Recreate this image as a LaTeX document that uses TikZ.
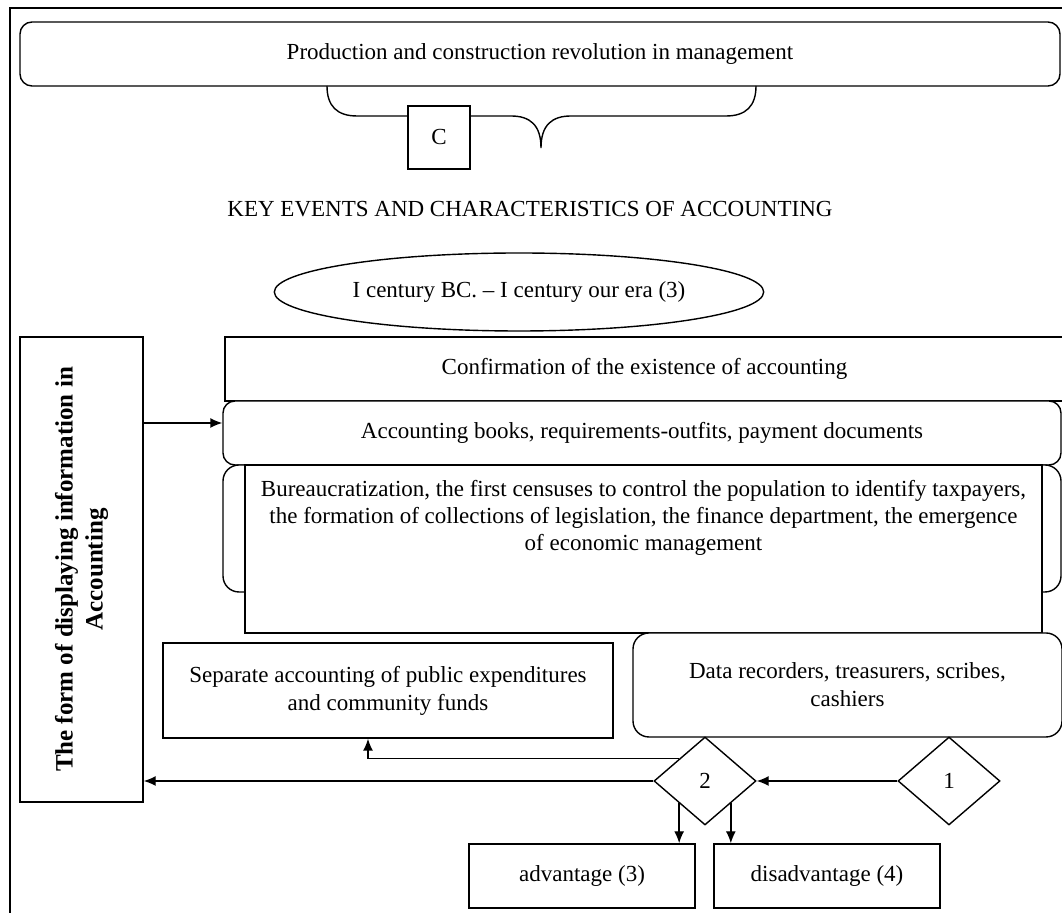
\documentclass[tikz,border=0pt]{standalone}
\usepackage{fontspec}
\setmainfont{Liberation Serif}
\usetikzlibrary{shapes,arrows.meta,positioning}

\begin{document}
\begin{tikzpicture}[x=0.5pt,y=-0.5pt,line width=0.7pt,font=\fontsize{11.5}{14}\selectfont,
  boxstyle/.style={rectangle,draw,fill=white,inner sep=0pt,align=center},
  roundstyle/.style={boxstyle,rounded corners=6pt},
  diastyle/.style={diamond,draw,fill=white,inner sep=0pt,minimum width=51pt,minimum height=44pt},
  arr/.style={-{Latex[length=6pt,width=5pt]}}]
\useasboundingbox (0,0) rectangle (1062,913);
\draw (10,913) |- (1062,8);
\node[roundstyle,minimum width=520pt,minimum height=32pt] (top) at (540,54) {Production and construction revolution in management};
% brace under the top box
\draw (327,86) .. controls (327,106) and (337,116) .. (357,116) -- (511,116)
  .. controls (530,116) and (541,125) .. (541,148) .. controls (541,125) and (552,116) .. (571,116)
  -- (726,116) .. controls (746,116) and (756,106) .. (756,86);
\node[boxstyle,minimum width=31pt,minimum height=31.5pt] (c) at (439,137.5) {C};
\node (title) at (530,209) {KEY EVENTS AND CHARACTERISTICS OF ACCOUNTING};
\node[ellipse,draw,minimum width=232.5pt,minimum height=39pt] (era) at (519,292) {I century BC. – I century our era (3)};
\node[boxstyle,rotate=90,minimum width=232.5pt,minimum height=61.5pt,font=\bfseries\fontsize{12.5}{15}\selectfont] (form) at (81.5,569.5) {The form of displaying information in\\Accounting};
\node[boxstyle,minimum width=419.5pt,minimum height=32pt] (conf) at (644.5,369) {Confirmation of the existence of accounting};
\node[roundstyle,minimum width=419pt,minimum height=32pt] (books) at (642,433) {Accounting books, requirements-outfits, payment documents};
\node[roundstyle,rounded corners=8pt,minimum width=419pt,minimum height=63.5pt] (brk) at (642,528.5) {};
\node[boxstyle,minimum width=398.5pt,minimum height=84pt] (bur) at (643.5,549) {};
\node[below=7.5pt of bur.north,align=center,inner sep=0pt,font=\fontsize{11.5}{13.5}\selectfont] (burtext) {Bureaucratization, the first censuses to control the population to identify taxpayers,\\the formation of collections of legislation, the finance department, the emergence\\of economic management};
\node[boxstyle,minimum width=225pt,minimum height=47.5pt] (sep) at (388,690.5) {Separate accounting of public expenditures\\and community funds};
\node[roundstyle,rounded corners=8pt,minimum width=214.5pt,minimum height=52pt] (rec) at (847.5,685) {Data recorders, treasurers, scribes,\\cashiers};
\node[diastyle] (d2) at (705,781) {2};
\node[diastyle] (d1) at (949,781) {1};
\node[boxstyle,minimum width=113pt,minimum height=32pt] (adv) at (582,876) {advantage (3)};
\node[boxstyle,minimum width=113pt,minimum height=32pt] (dis) at (827,876) {disadvantage (4)};
% arrows
\draw[arr] ([yshift=5pt]books.west -| form.south) -- ([yshift=5pt]books.west);
\draw[arr] (d1.west) -- (d2.east);
\draw[arr] (d2.west) -- (d2.west -| form.south);
\draw[arr] (d2.north west) -| ([xshift=-10pt]sep.south);
\draw[arr] (d2.south west) -- (d2.south west |- adv.north);
\draw[arr] (d2.south east) -- (d2.south east |- dis.north);
\end{tikzpicture}
\end{document}
